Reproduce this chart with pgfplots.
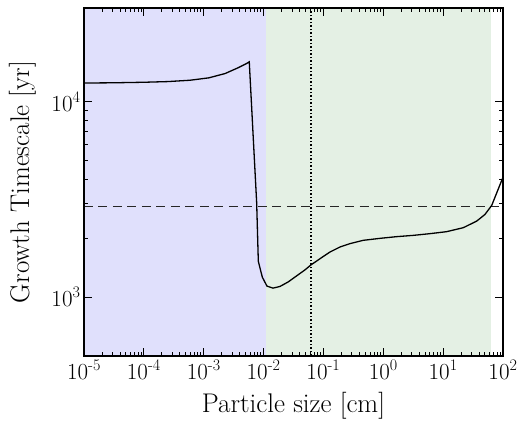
\documentclass[border=0pt]{standalone}
\usepackage{pgfplots}
\pgfplotsset{compat=1.18}

\definecolor{bluefill}{RGB}{224,224,252}
\definecolor{greenfill}{RGB}{228,240,228}

\begin{document}
\begin{tikzpicture}
\begin{axis}[
    scale only axis,
    width=419pt, height=348pt,
    xmode=log, ymode=log,
    xmin=1e-5, xmax=1e2,
    ymin=500, ymax=30000,
    xtick={1e-5,1e-4,1e-3,1e-2,1e-1,1,10,100},
    xticklabels={10\textsuperscript{-5},10\textsuperscript{-4},10\textsuperscript{-3},10\textsuperscript{-2},10\textsuperscript{-1},10\textsuperscript{0},10\textsuperscript{1},10\textsuperscript{2}},
    ytick={1e3,1e4},
    yticklabels={10\textsuperscript{3},10\textsuperscript{4}},
    tick align=inside,
    xtick pos=both, ytick pos=both,
    major tick length=8pt, minor tick length=4pt,
    every tick/.style={black, line width=1pt},
    axis line style={line width=1.8pt},
    xlabel={Particle size [cm]},
    ylabel={Growth Timescale [yr]},
    label style={font=\fontsize{27}{30}\selectfont},
    tick label style={font=\fontsize{23}{25}\selectfont},
    xlabel style={at={(axis description cs:0.5,-0.1437)}, anchor=center},
    ylabel style={at={(axis description cs:-0.147,0.5)}, anchor=center},
    axis on top,
]
% shaded regimes
\addplot[draw=none, fill=bluefill] coordinates {(1e-5,500) (0.011,500) (0.011,30000) (1e-5,30000)} -- cycle;
\addplot[draw=none, fill=greenfill] coordinates {(0.011,500) (63,500) (63,30000) (0.011,30000)} -- cycle;

% reference lines
\addplot[black!85, line width=0.9pt, dash pattern=on 9pt off 5.5pt] coordinates {(1e-5,2920) (1e2,2920)};
\addplot[black, line width=1.5pt, dash pattern=on 1.5pt off 2pt] coordinates {(0.062,500) (0.062,30000)};

% growth timescale
\addplot[black, line width=1.3pt] coordinates {
(1e-5,12410) (3e-5,12440) (1e-4,12520) (2.5e-4,12620) (5.9e-4,12820)
(1.22e-3,13190) (2.27e-3,13870) (3.74e-3,14840) (5.08e-3,15550) (5.77e-3,15920)
(7.67e-3,3030) (8.17e-3,1524) (9.53e-3,1264) (0.0114,1138) (0.01436,1111)
(0.01879,1133) (0.02588,1196) (0.03573,1284) (0.04917,1377) (0.06194,1460)
(0.09352,1592) (0.1288,1700) (0.1892,1803) (0.278,1876) (0.4634,1950)
(0.881,1996) (1.675,2036) (3.17,2067) (6.03,2109) (11.45,2159) (21.7,2262)
(36.3,2444) (50.0,2644) (64.7,2938) (100,4100)
};
\end{axis}
\pgfresetboundingbox
\path ([xshift=-84pt,yshift=-64pt]current axis.south west) rectangle ([xshift=21pt,yshift=8pt]current axis.north east);
\end{tikzpicture}
\end{document}
